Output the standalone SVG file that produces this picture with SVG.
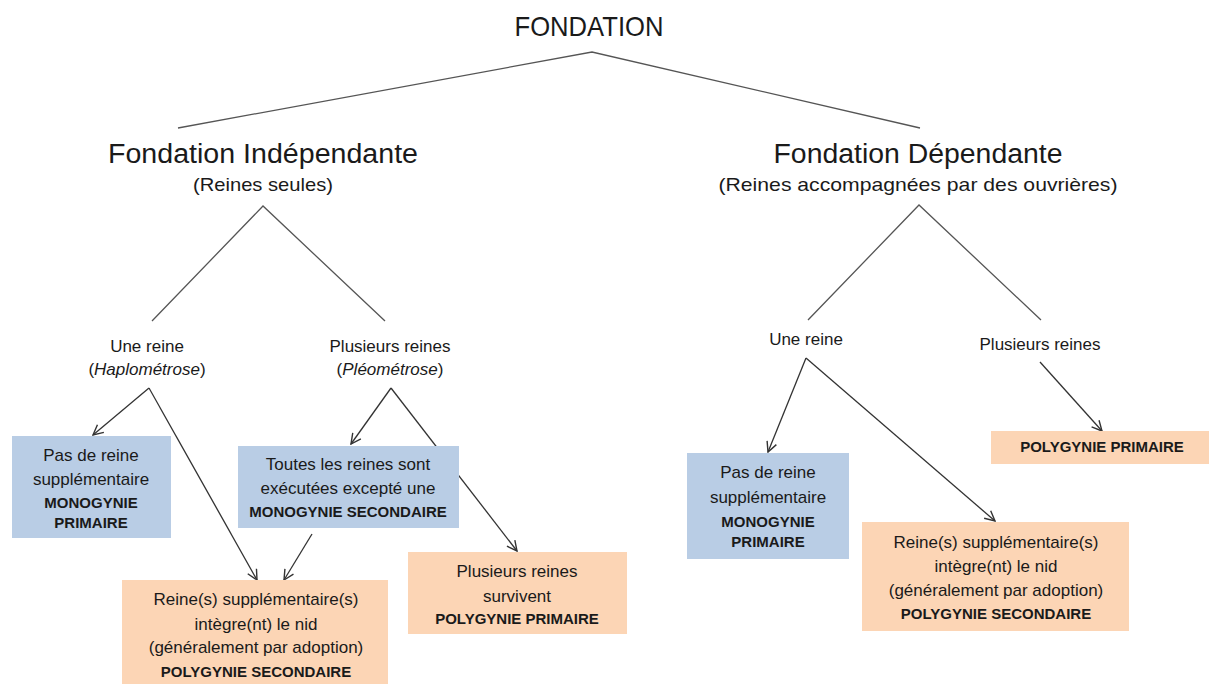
<svg xmlns="http://www.w3.org/2000/svg" width="1209" height="684" viewBox="0 0 1209 684">
<defs>
<marker id="arr" viewBox="0 0 12 12" refX="11" refY="6" markerWidth="12" markerHeight="12" markerUnits="userSpaceOnUse" orient="auto">
<path d="M1,1 L11,6 L1,11" fill="none" stroke="#333" stroke-width="1.4"/>
</marker>
<style>
text{font-family:"Liberation Sans",Arial,sans-serif;fill:#1a1a1a;text-anchor:middle}
.h1{font-size:28px}
.h2{font-size:27px}
.h3{font-size:19px}
.t{font-size:17px}
.b{font-size:15px;font-weight:bold}
.blue{fill:#b9cde5}
.orange{fill:#fcd5b5}
.tree{stroke:#555;stroke-width:1.3;fill:none}
.arrow{stroke:#333;stroke-width:1.3;fill:none;marker-end:url(#arr)}
</style>
</defs>
<rect width="1209" height="684" fill="#fff"/>
<g id="connectors">
<path class="tree" d="M178,128 L592,52 L920,128"/>
<path class="tree" d="M152,321 L263,206 L385,321"/>
<path class="tree" d="M808,320 L919,205 L1041,320"/>
<line class="arrow" x1="149" y1="388" x2="93" y2="435"/>
<line class="arrow" x1="149" y1="388" x2="257" y2="580"/>
<line class="arrow" x1="391" y1="388" x2="351" y2="444"/>
<line class="arrow" x1="391" y1="388" x2="517" y2="551"/>
<line class="arrow" x1="312" y1="534" x2="284" y2="580"/>
<line class="arrow" x1="806" y1="358" x2="768" y2="452"/>
<line class="arrow" x1="806" y1="358" x2="995" y2="521"/>
<line class="arrow" x1="1040" y1="362" x2="1102" y2="431"/>
</g>
<g id="root"><text class="h1" x="589" y="36" textLength="149" lengthAdjust="spacingAndGlyphs">FONDATION</text></g>
<g id="independante">
<text class="h2" x="263" y="163" textLength="310" lengthAdjust="spacingAndGlyphs">Fondation Indépendante</text>
<text class="h3" x="263" y="191" textLength="140" lengthAdjust="spacingAndGlyphs">(Reines seules)</text>
</g>
<g id="dependante">
<text class="h2" x="918" y="163" textLength="289" lengthAdjust="spacingAndGlyphs">Fondation Dépendante</text>
<text class="h3" x="918" y="191" textLength="399" lengthAdjust="spacingAndGlyphs">(Reines accompagnées par des ouvrières)</text>
</g>
<g id="haplo">
<text class="t" x="147" y="352">Une reine</text>
<text class="t" x="147" y="375">(<tspan font-style="italic">Haplométrose</tspan>)</text>
</g>
<g id="pleo">
<text class="t" x="390" y="352">Plusieurs reines</text>
<text class="t" x="390" y="375">(<tspan font-style="italic">Pléométrose</tspan>)</text>
</g>
<g id="dep-une"><text class="t" x="806" y="345">Une reine</text></g>
<g id="dep-plus"><text class="t" x="1040" y="350">Plusieurs reines</text></g>
<g id="mono-prim-1">
<rect class="blue" x="12" y="436" width="159" height="102"/>
<text class="t" x="91" y="461">Pas de reine</text>
<text class="t" x="91" y="485">supplémentaire</text>
<text class="b" x="91" y="508">MONOGYNIE</text>
<text class="b" x="91" y="528">PRIMAIRE</text>
</g>
<g id="mono-sec">
<rect class="blue" x="238" y="446" width="221" height="82"/>
<text class="t" x="348" y="470">Toutes les reines sont</text>
<text class="t" x="348" y="494">exécutées excepté une</text>
<text class="b" x="348" y="517">MONOGYNIE SECONDAIRE</text>
</g>
<g id="poly-sec-1">
<rect class="orange" x="122" y="580" width="266" height="104"/>
<text class="t" x="256" y="605">Reine(s) supplémentaire(s)</text>
<text class="t" x="256" y="630">intègre(nt) le nid</text>
<text class="t" x="256" y="653">(généralement par adoption)</text>
<text class="b" x="256" y="677">POLYGYNIE SECONDAIRE</text>
</g>
<g id="poly-prim-1">
<rect class="orange" x="408" y="552" width="219" height="82"/>
<text class="t" x="517" y="577">Plusieurs reines</text>
<text class="t" x="517" y="602">survivent</text>
<text class="b" x="517" y="624">POLYGYNIE PRIMAIRE</text>
</g>
<g id="mono-prim-2">
<rect class="blue" x="687" y="453" width="162" height="106"/>
<text class="t" x="768" y="478">Pas de reine</text>
<text class="t" x="768" y="503">supplémentaire</text>
<text class="b" x="768" y="527">MONOGYNIE</text>
<text class="b" x="768" y="547">PRIMAIRE</text>
</g>
<g id="poly-sec-2">
<rect class="orange" x="862" y="522" width="267" height="109"/>
<text class="t" x="996" y="548">Reine(s) supplémentaire(s)</text>
<text class="t" x="996" y="572">intègre(nt) le nid</text>
<text class="t" x="996" y="596">(généralement par adoption)</text>
<text class="b" x="996" y="619">POLYGYNIE SECONDAIRE</text>
</g>
<g id="poly-prim-2">
<rect class="orange" x="991" y="431" width="218" height="33"/>
<text class="b" x="1102" y="452">POLYGYNIE PRIMAIRE</text>
</g>
</svg>
